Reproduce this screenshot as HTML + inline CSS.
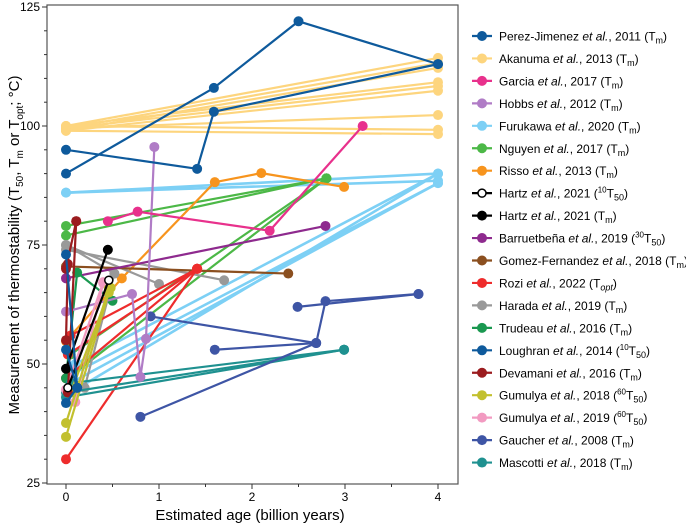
<!DOCTYPE html>
<html><head><meta charset="utf-8">
<style>
body{margin:0;background:#fff;width:686px;height:525px;overflow:hidden;font-family:"Liberation Sans",Arial,sans-serif}
svg text{font-family:"Liberation Sans",Arial,sans-serif}
</style></head>
<body>
<svg id="chart" width="686" height="525" viewBox="0 0 686 525" xmlns="http://www.w3.org/2000/svg">
<g id="axes"></g>
<g id="marks"></g>
<g id="legend"></g>
<text x="250" y="520" font-size="15" text-anchor="middle">Estimated age (billion years)</text>
<text transform="translate(19,245) rotate(-90)" font-size="15" text-anchor="middle">Measurement of thermostability (T<tspan font-size="10" dy="4">50</tspan><tspan dy="-4">, T</tspan><tspan font-size="10" dy="4">m</tspan><tspan dy="-4"> or T</tspan><tspan font-size="10" dy="4">opt</tspan><tspan dy="-4">; °C)</tspan></text>
</svg>
<script>
const xTicks=[0,1,2,3,4];
const yTicks=[25,50,75,100,125];
const seriesNames=["Perez-Jimenez","Akanuma","Garcia","Hobbs","Furukawa","Nguyen","Risso","Hartz","Hartz","Barruetbeña","Gomez-Fernandez","Rozi","Harada","Trudeau","Loughran","Devamani","Gumulya","Gumulya","Gaucher","Mascotti"];
const seriesYears=["2011","2013","2017","2012","2020","2017","2013","2021","2021","2019","2018","2022","2019","2016","2014","2016","2018","2019","2008","2018"];
const seriesSup=["","","","","","","","10","","30","","","","","10","","60","60","",""];
const seriesSub=["m","m","m","m","m","m","m","50","m","50","m","opt","m","m","50","m","50","50","m","m"];
const seriesColors=["#0e5a9c","#fdd57e","#e8318c","#b07cc6","#7dd0f5","#4cb847","#f7941d","#000000","#000000","#8e2a8e","#8b4f1f","#ee2c2c","#999999","#1a9850","#0e5a9c","#9b1c1f","#c2c02e","#f29ac1","#3e55a5","#1f9190"];
const dPerez=[[[0,90],[1.59,108],[2.5,122],[4,113]],[[0,95],[1.41,91],[1.59,103],[4,113]]];
const dAkanuma=[[[0,100],[4,114.3]],[[0,99.5],[4,113.2]],[[0,99],[4,112.2]],[[0,100],[4,109.2]],[[0,99.5],[4,108.4]],[[0,99],[4,107.4]],[[0,99.5],[4,102.3]],[[0,100],[4,99.2]],[[0,99],[4,98.3]]];
const dGarcia=[[[0.45,80],[0.77,82],[2.19,78],[3.19,100]]];
const dHobbs=[[[0,61],[0.71,64.7],[0.8,47.3],[0.86,55.3],[0.95,95.6]]];
const dFurukawa=[[[0,86],[4,90]],[[0,86],[4,88.5]],[[0.05,44],[4,90]],[[0.05,46],[4,88]],[[0.08,48],[4,88]],[[0.1,50],[4,90]]];
const dNguyen=[[[0,79],[2.8,89]],[[0,77],[2.8,89]],[[0.02,47],[2.8,89]],[[0.05,52],[2.8,89]]];
const dRisso=[[[0,54.8],[0.6,68],[1.6,88.2],[2.1,90.1],[2.99,87.2]]];
const dHartzOpen=[[[0.02,45],[0.46,67.6]]];
const dHartz=[[[0,49],[0.45,74]]];
const dBarr=[[[0,68],[2.79,79]]];
const dGomez=[[[0,70.5],[2.39,69]]];
const dRozi=[[[0,30],[1.41,70]],[[0,47],[1.41,70]],[[0.02,52],[1.41,70]],[[0.05,56],[1.41,70]]];
const dHarada=[[[0,75],[0.52,69]],[[0,75],[1.0,66.8]],[[0,74],[1.7,67.6]],[[0.2,45],[0.52,69]]];
const dTrudeau=[[[0,47],[0.12,69.2],[0.5,63.3]]];
const dLoughran=[[[0,73],[0.12,45],[0,41.8]],[[0,53],[0.12,45]]];
const dDevamani=[[[0,70],[0.11,80]],[[0.02,44],[0.11,80]],[[0,55],[0.02,71]]];
const dGum18=[[[0,37.6],[0.46,65.8]],[[0,34.7],[0.46,65]],[[0.05,44],[0.48,66]]];
const dGum19=[[[0,44.6],[0.4,67.2]],[[0.1,42],[0.4,67]]];
const dGaucher=[[[0.8,38.9],[2.69,54.4],[2.79,63.2],[3.79,64.7]],[[0.91,60],[2.69,54.4]],[[1.6,53],[2.69,54.4]],[[2.49,62],[3.79,64.7]]];
const dMascotti=[[[0,44],[2.99,53]],[[0.05,46],[2.99,53]],[[0,43],[2.99,53]]];
const allData=[dPerez,dAkanuma,dGarcia,dHobbs,dFurukawa,dNguyen,dRisso,dHartzOpen,dHartz,dBarr,dGomez,dRozi,dHarada,dTrudeau,dLoughran,dDevamani,dGum18,dGum19,dGaucher,dMascotti];

const NS="http://www.w3.org/2000/svg";
const X0=47,X1=458,Y0=5,Y1=484;
function sx(a){return 66+93*a;}
function sy(v){return 483-4.76*(v-25);}
function mk(tag,attrs,parent){const e=document.createElementNS(NS,tag);for(const k in attrs)e.setAttribute(k,attrs[k]);parent.appendChild(e);return e;}
const axes=document.getElementById('axes');
let fr=mk('rect',{x:X0,y:Y0,width:X1-X0,height:Y1-Y0,fill:'none',stroke:'#555','stroke-width':1.2},axes);


for(let v=25;v<=125;v+=5){
  const major=yTicks.includes(v);
  let t=mk('line',{x1:X0,x2:X0-(major?5:3),y1:sy(v),y2:sy(v),stroke:'#333','stroke-width':1},axes);
  
  
}
yTicks.forEach(v=>{
  let t=mk('text',{x:X0-7,y:sy(v)+4,'font-size':12,'text-anchor':'end'},axes);t.textContent=v;
  
  
});
for(let a=0;a<=4;a+=0.5){
  const major=Number.isInteger(a);
  let t=mk('line',{x1:sx(a),x2:sx(a),y1:Y1,y2:Y1+(major?5:3),stroke:'#333','stroke-width':1},axes);
  
  
}
xTicks.forEach(a=>{
  let t=mk('text',{x:sx(a),y:Y1+17,'font-size':12,'text-anchor':'middle'},axes);t.textContent=a;
  
  
});
const marks=document.getElementById('marks');
const order=[1,4,5,6,12,10,9,11,13,19,18,3,2,17,16,15,7,8,14,0];
order.forEach(i=>{
  const g=mk('g',{},marks);
  
  
  const c=seriesColors[i];const open=(i===7);
  allData[i].forEach(pl=>{
    let l=mk('polyline',{points:pl.map(p=>sx(p[0])+','+sy(p[1])).join(' '),fill:'none',stroke:c,'stroke-width':(i===4?2.6:2.2),'stroke-linejoin':'round'},g);
    
    
    pl.forEach(p=>{
      let m=mk('circle',{cx:sx(p[0]),cy:sy(p[1]),r:open?4:5,fill:open?'#fff':c,stroke:c,'stroke-width':open?1.5:0},g);
      
      
    });
  });
});
const leg=document.getElementById('legend');
seriesNames.forEach((n,i)=>{
  const y=36+i*22.45;const c=seriesColors[i];
  const g=mk('g',{},leg);
  
  
  mk('line',{x1:472,x2:492,y1:y,y2:y,stroke:c,'stroke-width':2.2},g);
  mk('circle',{cx:482,cy:y,r:i===7?4:5,fill:i===7?'#fff':c,stroke:c,'stroke-width':i===7?1.5:0},g);
  const t=mk('text',{x:499,y:y+4.5,'font-size':12},g);
  const parts=[[n+' ',{}],['et al.',{'font-style':'italic'}],[', '+seriesYears[i]+' (',{}]];
  parts.forEach(p=>{const s=mk('tspan',p[1],t);s.textContent=p[0];});
  if(seriesSup[i]){const s=mk('tspan',{'font-size':8,dy:-5},t);s.textContent=seriesSup[i];const s2=mk('tspan',{dy:5},t);s2.textContent='T';}
  else{const s=mk('tspan',{},t);s.textContent='T';}
  const sb=mk('tspan',{'font-size':9,dy:3,'font-style':seriesSub[i]==='opt'?'italic':'normal'},t);sb.textContent=seriesSub[i];
  const cl=mk('tspan',{dy:-3},t);cl.textContent=')';
});
</script>
</body></html>
